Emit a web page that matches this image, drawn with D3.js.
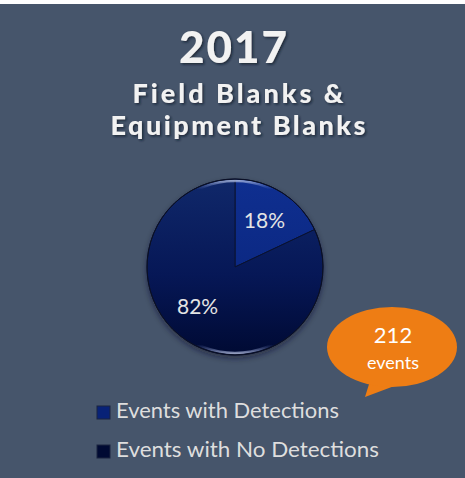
<!DOCTYPE html>
<html>
<head>
<meta charset="utf-8">
<script src="https://cdn.jsdelivr.net/npm/d3@7"></script>
<style>
  html, body { margin: 0; padding: 0; background: #fff; }
  svg { display: block; }
</style>
</head>
<body>
<svg id="chart" width="465" height="478"></svg>
<script>
// Chart content
const titleYear = "2017";
const titleLines = ["Field Blanks &", "Equipment Blanks"];
const categories = ["Events with Detections", "Events with No Detections"];
const shares = [18, 82];
const totalEvents = 212;
const calloutUnit = "events";

const W = 465, H = 478;
const svg = d3.select("#chart");
const defs = svg.append("defs");

// background panel
svg.append("rect").attr("x", 0).attr("y", 4).attr("width", W).attr("height", H - 4)
  .attr("fill", "#46556b");

// text shadow
const ts = defs.append("filter").attr("id", "tshadow").attr("x", "-10%").attr("y", "-20%")
  .attr("width", "130%").attr("height", "150%");
ts.append("feDropShadow").attr("dx", 1.5).attr("dy", 1.5).attr("stdDeviation", 0.8)
  .attr("flood-color", "#111a28").attr("flood-opacity", 0.75);

// pie shadow
const ps = defs.append("filter").attr("id", "pshadow").attr("x", "-20%").attr("y", "-20%")
  .attr("width", "140%").attr("height", "150%");
ps.append("feDropShadow").attr("dx", 0).attr("dy", 3).attr("stdDeviation", 3)
  .attr("flood-color", "#10182a").attr("flood-opacity", 0.6);

// slice gradients (vertical, lighter on top)
const sliceStops = [
  [["0%", "#0f2f90"], ["100%", "#082277"]],
  [["0%", "#10286a"], ["55%", "#061756"], ["100%", "#000a33"]]
];
sliceStops.forEach((stops, i) => {
  const g = defs.append("linearGradient").attr("id", "slice" + i)
    .attr("gradientUnits", "userSpaceOnUse")
    .attr("x1", 0).attr("y1", -88).attr("x2", 0).attr("y2", 88);
  stops.forEach(s => g.append("stop").attr("offset", s[0]).attr("stop-color", s[1]));
});

// rim highlight gradient
const rim = defs.append("linearGradient").attr("id", "rim")
  .attr("gradientUnits", "userSpaceOnUse")
  .attr("x1", 0).attr("y1", -88).attr("x2", 0).attr("y2", 88);
[["0%", "#c8d4f0", 0.9], ["6%", "#6b7fc0", 0.0], ["94%", "#6b7fc0", 0.0], ["100%", "#c8d0ea", 0.9]]
  .forEach(s => rim.append("stop").attr("offset", s[0]).attr("stop-color", s[1]).attr("stop-opacity", s[2]));

// titles
svg.append("text").attr("x", 233).attr("y", 63)
  .attr("text-anchor", "middle")
  .attr("font-family", "Lato, 'DejaVu Sans', sans-serif")
  .attr("font-weight", 900).attr("font-size", 44)
  .attr("textLength", 108).attr("lengthAdjust", "spacing")
  .attr("fill", "#f2f2f2").attr("filter", "url(#tshadow)")
  .text(titleYear);

const subW = [211, 255];
titleLines.forEach((t, i) => {
  svg.append("text").attr("x", 238).attr("y", 103 + i * 32)
    .attr("text-anchor", "middle")
    .attr("font-family", "Lato, 'DejaVu Sans', sans-serif")
    .attr("font-weight", 900).attr("font-size", 27)
    .attr("textLength", subW[i]).attr("lengthAdjust", "spacing")
    .attr("fill", "#f2f2f2").attr("filter", "url(#tshadow)")
    .text(t);
});

// pie
const cx = 235, cy = 267, R = 88;
const pie = d3.pie().sort(null).value(d => d);
const arcs = pie(shares);
const arc = d3.arc().innerRadius(0).outerRadius(R);
const gPie = svg.append("g").attr("transform", `translate(${cx},${cy})`);

gPie.append("circle").attr("r", R).attr("fill", "#000a33").attr("filter", "url(#pshadow)");

gPie.selectAll("path.slice").data(arcs).enter().append("path")
  .attr("class", "slice")
  .attr("d", arc)
  .attr("fill", (d, i) => `url(#slice${i})`)
  .attr("stroke", "#0a1230").attr("stroke-width", 1);

// bevel highlights on the rim
gPie.append("circle").attr("r", R - 2).attr("fill", "none")
  .attr("stroke", "url(#rim)").attr("stroke-width", 2.5);
gPie.append("circle").attr("r", R).attr("fill", "none")
  .attr("stroke", "#0b1024").attr("stroke-width", 1);

// percentage labels
const labelArc = d3.arc().innerRadius(R * 0.56).outerRadius(R * 0.56);
const labelOffsets = [[3, -5], [-11, -2]];
gPie.selectAll("text.pct").data(arcs).enter().append("text")
  .attr("class", "pct")
  .attr("transform", (d, i) => {
    const c = labelArc.centroid(d);
    return `translate(${c[0] + labelOffsets[i][0]},${c[1] + labelOffsets[i][1]})`;
  })
  .attr("text-anchor", "middle").attr("dy", "0.35em")
  .attr("font-family", "Lato, 'Open Sans', sans-serif")
  .attr("font-size", 21)
  .attr("fill", "#e4e4e4")
  .text(d => d.data + "%");

// callout bubble
const bx = 392, by = 347, brx = 65, bry = 40;
const gB = svg.append("g");
gB.append("path")
  .attr("d", `M${bx - 22},${by + 34} L${bx - 27},${by + 50} L${bx + 5},${by + 38} Z`)
  .attr("fill", "#ee7d14");
gB.append("ellipse").attr("cx", bx).attr("cy", by).attr("rx", brx).attr("ry", bry)
  .attr("fill", "#ee7d14");
gB.append("text").attr("x", bx + 1).attr("y", by - 4)
  .attr("text-anchor", "middle")
  .attr("font-family", "Lato, 'Open Sans', sans-serif").attr("font-size", 22)
  .attr("fill", "#ffffff").text(totalEvents);
gB.append("text").attr("x", bx + 1).attr("y", by + 22)
  .attr("text-anchor", "middle")
  .attr("font-family", "Lato, 'Open Sans', sans-serif").attr("font-size", 18)
  .attr("fill", "#ffffff").text(calloutUnit);

// legend
const legendW = [223, 263];
const gL = svg.append("g");
categories.forEach((c, i) => {
  const y = 418 + i * 39;
  gL.append("rect").attr("x", 97).attr("y", y - 12).attr("width", 13).attr("height", 13)
    .attr("fill", `url(#slice${i})`).attr("stroke", "#1a2440").attr("stroke-width", 1);
  gL.append("text").attr("x", 116).attr("y", y)
    .attr("font-family", "Lato, 'Open Sans', sans-serif").attr("font-size", 21)
    .attr("textLength", legendW[i]).attr("lengthAdjust", "spacingAndGlyphs")
    .attr("fill", "#dedede")
    .text(c);
});
</script>
</body>
</html>
